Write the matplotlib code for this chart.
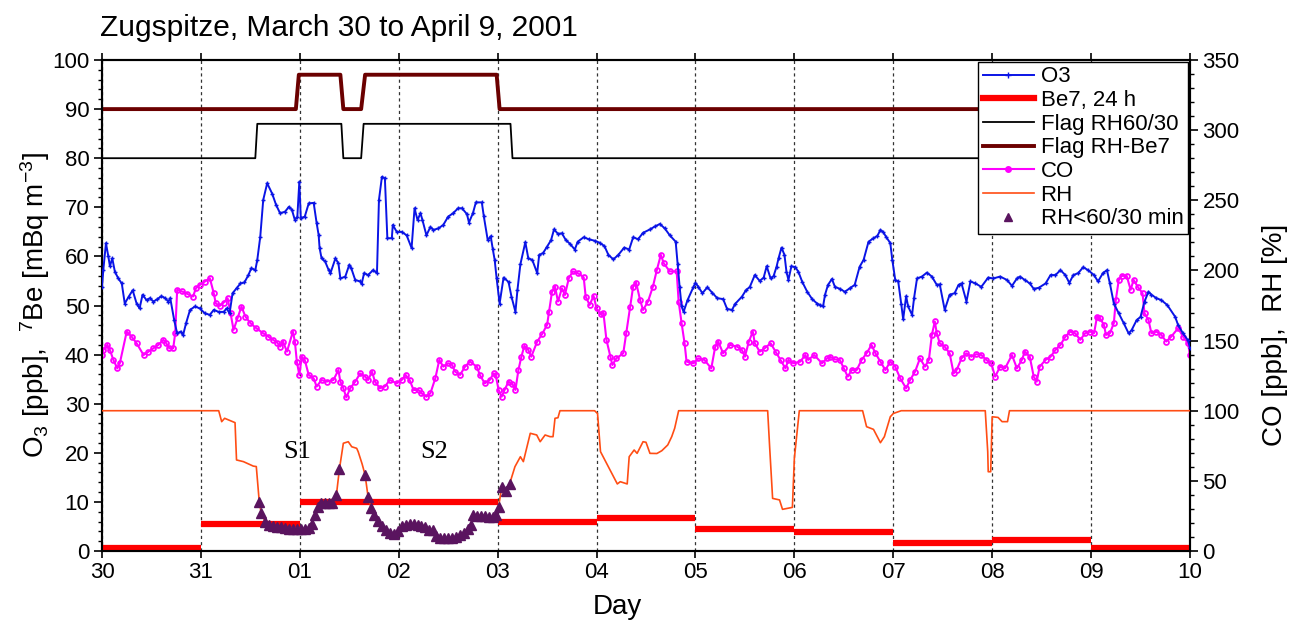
import numpy as np
import matplotlib
matplotlib.use("Agg")
import matplotlib.pyplot as plt
from matplotlib.lines import Line2D
from matplotlib.ticker import MultipleLocator

plt.rcParams['font.family'] = ['Liberation Sans', 'DejaVu Sans']
plt.rcParams['mathtext.default'] = 'regular'

# ---------------- data (x = days since March 30, 00:00) ----------------
day_labels = ['30', '31', '01', '02', '03', '04', '05', '06', '07', '08', '09', '10']

o3_day = [0.0, 0.013, 0.04, 0.064, 0.08, 0.104, 0.13, 0.165, 0.2, 0.23, 0.27, 0.31, 0.35, 0.38, 0.41, 0.45,
          0.485, 0.52, 0.56, 0.60, 0.64, 0.67, 0.69, 0.73, 0.76, 0.795, 0.82, 0.85, 0.89, 0.94, 0.99, 1.04,
          1.09, 1.13, 1.18, 1.23, 1.26, 1.29, 1.32, 1.36, 1.40, 1.44, 1.48, 1.51, 1.55, 1.57, 1.60, 1.63,
          1.67, 1.72, 1.76, 1.80, 1.85, 1.89, 1.92, 1.95, 1.975, 1.995, 2.01, 2.05, 2.09, 2.14, 2.17, 2.19,
          2.20, 2.22, 2.255, 2.29, 2.31, 2.36, 2.39, 2.41, 2.46, 2.50, 2.52, 2.56, 2.61, 2.625, 2.65, 2.69,
          2.74, 2.78, 2.80, 2.83, 2.86, 2.885, 2.93, 2.94, 2.98, 3.03, 3.08, 3.13, 3.16, 3.19, 3.22, 3.24,
          3.28, 3.32, 3.35, 3.40, 3.45, 3.50, 3.55, 3.60, 3.64, 3.69, 3.71, 3.75, 3.78, 3.84, 3.86, 3.90,
          3.93, 3.95, 3.97, 3.99, 4.02, 4.06, 4.11, 4.14, 4.18, 4.20, 4.23, 4.28, 4.31, 4.35, 4.40, 4.42,
          4.46, 4.50, 4.54, 4.57, 4.61, 4.65, 4.69, 4.73, 4.78, 4.81, 4.87, 4.92, 4.98, 5.03, 5.08, 5.12,
          5.17, 5.22, 5.28, 5.33, 5.37, 5.42, 5.47, 5.54, 5.59, 5.64, 5.69, 5.74, 5.80, 5.82, 5.84, 5.86,
          5.88, 5.92, 5.98, 6.00, 6.03, 6.07, 6.12, 6.17, 6.22, 6.28, 6.32, 6.37, 6.40, 6.47, 6.51, 6.55,
          6.60, 6.65, 6.69, 6.72, 6.76, 6.79, 6.82, 6.84, 6.87, 6.90, 6.92, 6.94, 6.97, 7.01, 7.04, 7.08,
          7.13, 7.18, 7.23, 7.26, 7.29, 7.31, 7.34, 7.38, 7.41, 7.46, 7.51, 7.56, 7.61, 7.66, 7.70, 7.75,
          7.80, 7.84, 7.87, 7.90, 7.93, 7.97, 7.99, 8.02, 8.05, 8.08, 8.10, 8.13, 8.15, 8.19, 8.21, 8.24,
          8.29, 8.34, 8.39, 8.44, 8.47, 8.52, 8.57, 8.62, 8.66, 8.69, 8.74, 8.78, 8.83, 8.89, 8.96, 9.01,
          9.08, 9.15, 9.20, 9.25, 9.28, 9.33, 9.38, 9.42, 9.47, 9.54, 9.59, 9.64, 9.69, 9.74, 9.78, 9.82,
          9.87, 9.92, 9.97, 10.03, 10.07, 10.12, 10.16, 10.19, 10.23, 10.28, 10.33, 10.38, 10.41, 10.46,
          10.50, 10.54, 10.58, 10.61, 10.66, 10.71, 10.77, 10.85, 10.88, 10.93, 10.98, 11.0]
o3_val = [53.8, 57.2, 62.7, 60.0, 58.0, 59.6, 56.9, 55.5, 54.5, 50.4, 51.8, 53.1, 50.4, 49.4, 52.2, 51.1,
          51.5, 50.8, 51.3, 51.9, 51.5, 50.8, 51.5, 47.0, 44.3, 44.7, 44.0, 46.4, 49.1, 49.8, 49.4, 48.4,
          48.1, 49.1, 48.7, 48.7, 49.4, 48.4, 52.5, 53.5, 54.5, 54.7, 56.2, 57.6, 57.2, 59.3, 64.0, 71.5,
          74.9, 72.8, 70.5, 68.8, 69.1, 70.1, 69.5, 67.4, 68.1, 75.2, 67.8, 68.1, 70.8, 70.9, 66.8, 64.4,
          61.7, 59.6, 59.0, 57.3, 56.6, 59.6, 58.6, 55.5, 55.9, 58.3, 57.6, 55.2, 54.9, 54.4, 56.6, 56.2,
          57.2, 56.6, 71.5, 76.2, 75.9, 63.7, 63.7, 66.4, 65.0, 65.0, 64.3, 61.7, 69.8, 67.4, 68.8, 67.4,
          64.3, 66.0, 65.4, 65.7, 66.4, 68.1, 68.8, 69.8, 69.8, 68.6, 66.9, 68.8, 71.0, 71.0, 68.2, 63.3,
          64.1, 61.6, 59.3, 55.5, 50.4, 55.7, 54.8, 51.8, 48.7, 53.1, 58.4, 62.9, 59.6, 59.3, 56.6, 60.3,
          60.7, 62.0, 63.3, 65.5, 64.6, 64.7, 63.3, 62.6, 61.4, 63.0, 63.9, 63.5, 63.2, 62.8, 62.1, 60.3,
          59.4, 60.3, 61.8, 61.4, 63.9, 63.5, 64.8, 65.5, 66.1, 66.6, 65.7, 64.3, 63.0, 58.5, 53.8, 49.8,
          48.7, 51.1, 53.8, 54.6, 53.8, 52.5, 53.7, 52.6, 51.5, 51.3, 49.3, 49.1, 50.3, 51.8, 53.1, 53.8,
          56.2, 55.0, 55.7, 58.0, 55.5, 56.0, 57.9, 59.6, 61.8, 60.3, 56.9, 55.2, 58.0, 57.8, 56.9, 54.8,
          52.8, 51.3, 50.4, 50.1, 49.8, 52.2, 54.2, 55.4, 53.8, 53.4, 52.8, 53.5, 54.2, 57.9, 59.3, 63.0,
          63.7, 64.2, 65.4, 64.9, 63.9, 62.7, 59.3, 55.2, 54.9, 50.4, 47.2, 51.9, 49.8, 48.1, 51.5, 55.5,
          55.9, 56.7, 55.9, 54.2, 54.3, 49.1, 52.2, 52.5, 54.2, 54.5, 50.8, 54.9, 54.5, 53.8, 55.7, 55.5,
          55.9, 55.2, 54.0, 55.5, 55.9, 55.2, 54.5, 53.4, 53.6, 54.5, 56.2, 56.2, 57.2, 56.2, 54.6, 56.2,
          56.6, 57.8, 57.2, 56.2, 54.9, 56.6, 57.2, 54.5, 50.4, 48.4, 46.4, 44.3, 45.0, 47.0,
          47.7, 50.8, 52.8, 52.2, 51.5, 51.1, 50.1, 47.7, 46.0, 44.3, 42.9, 41.4]

co_day = [0.0, 0.013, 0.054, 0.08, 0.115, 0.155, 0.18, 0.25, 0.30, 0.35, 0.42, 0.47, 0.52, 0.57, 0.62, 0.65,
          0.68, 0.72, 0.74, 0.76, 0.81, 0.86, 0.92, 0.95, 0.99, 1.04, 1.09, 1.13, 1.15, 1.19, 1.23, 1.27,
          1.30, 1.33, 1.37, 1.41, 1.45, 1.50, 1.56, 1.63, 1.68, 1.73, 1.77, 1.80, 1.83, 1.87, 1.93, 1.95,
          1.97, 1.995, 2.02, 2.05, 2.09, 2.14, 2.17, 2.22, 2.27, 2.34, 2.39, 2.41, 2.44, 2.47, 2.51, 2.56,
          2.61, 2.66, 2.69, 2.73, 2.76, 2.81, 2.86, 2.91, 2.98, 3.03, 3.07, 3.11, 3.15, 3.20, 3.23, 3.28,
          3.32, 3.37, 3.41, 3.45, 3.50, 3.54, 3.57, 3.62, 3.67, 3.72, 3.79, 3.82, 3.87, 3.92, 3.96, 3.98,
          4.01, 4.04, 4.07, 4.11, 4.15, 4.18, 4.21, 4.24, 4.27, 4.31, 4.34, 4.40, 4.45, 4.50, 4.52, 4.55,
          4.58, 4.61, 4.65, 4.68, 4.72, 4.76, 4.81, 4.87, 4.89, 4.93, 4.97, 5.00, 5.04, 5.07, 5.10, 5.14,
          5.16, 5.20, 5.27, 5.30, 5.34, 5.37, 5.40, 5.44, 5.47, 5.52, 5.57, 5.61, 5.65, 5.68, 5.74, 5.81,
          5.83, 5.86, 5.89, 5.91, 5.98, 6.03, 6.09, 6.16, 6.20, 6.23, 6.28, 6.35, 6.42, 6.47, 6.50, 6.54,
          6.58, 6.60, 6.65, 6.70, 6.76, 6.81, 6.86, 6.91, 6.94, 6.99, 7.06, 7.11, 7.14, 7.20, 7.28, 7.33,
          7.36, 7.41, 7.46, 7.50, 7.54, 7.58, 7.63, 7.68, 7.73, 7.78, 7.82, 7.87, 7.92, 7.97, 8.02, 8.07,
          8.13, 8.17, 8.22, 8.27, 8.32, 8.36, 8.39, 8.42, 8.44, 8.47, 8.52, 8.57, 8.61, 8.64, 8.69, 8.74,
          8.79, 8.84, 8.89, 8.94, 8.99, 9.03, 9.08, 9.13, 9.20, 9.25, 9.30, 9.33, 9.38, 9.42, 9.45, 9.48,
          9.54, 9.59, 9.64, 9.69, 9.74, 9.79, 9.84, 9.89, 9.94, 9.99, 10.03, 10.06, 10.09, 10.13, 10.15,
          10.19, 10.23, 10.25, 10.28, 10.31, 10.36, 10.40, 10.43, 10.47, 10.52, 10.54, 10.58, 10.61, 10.66,
          10.71, 10.76, 10.81, 10.88, 10.93, 10.98, 11.0]
co_val = [139.7, 143.3, 146.9, 143.3, 136.2, 130.2, 133.8, 156.4, 152.8, 148.1, 139.7, 142.1, 144.5, 146.9,
          150.5, 148.1, 144.5, 144.5, 155.2, 186.2, 185.0, 183.3, 181.4, 187.3, 189.7, 192.1, 194.5, 183.8,
          176.6, 174.7, 177.1, 180.2, 169.5, 157.6, 165.9, 174.2, 167.1, 162.4, 158.8, 155.2, 152.8, 150.5,
          148.6, 145.7, 149.3, 142.1, 156.4, 149.3, 135.0, 125.5, 138.5, 136.2, 125.5, 123.1, 117.2, 121.9,
          120.7, 121.9, 129.0, 120.7, 116.0, 109.5, 116.0, 120.7, 126.6, 124.3, 121.9, 127.8, 120.7, 116.0,
          117.2, 121.9, 119.5, 121.9, 125.5, 121.9, 114.8, 114.8, 112.4, 110.0, 112.4, 123.1, 136.2, 131.4,
          133.8, 132.6, 127.8, 125.5, 131.4, 135.0, 131.4, 125.5, 119.5, 121.9, 126.6, 125.5, 114.8, 110.0,
          114.8, 120.7, 119.0, 114.8, 129.0, 138.5, 146.2, 143.3, 138.5, 149.3, 154.7, 161.2, 170.7, 184.9,
          188.5, 177.8, 187.3, 182.5, 194.5, 199.3, 198.1, 195.2, 181.4, 175.4, 181.9, 173.0, 168.8, 169.5,
          150.5, 138.5, 132.6, 137.3, 140.9, 155.2, 174.2, 188.5, 191.3, 179.0, 171.8, 177.8, 188.5, 200.4,
          211.1, 205.1, 199.3, 199.3, 177.8, 162.4, 148.1, 135.0, 133.8, 137.3, 136.2, 130.2, 145.7, 149.3,
          140.9, 146.9, 145.7, 143.3, 138.5, 149.3, 156.4, 148.1, 142.1, 144.5, 148.1, 142.1, 136.2, 130.2,
          136.2, 133.8, 135.0, 139.7, 136.2, 139.7, 133.8, 137.3, 138.5, 136.6, 136.2, 130.2, 124.3, 129.0,
          129.0, 136.2, 140.9, 146.9, 140.9, 135.0, 129.0, 135.0, 131.4, 123.1, 116.0, 121.9, 127.8, 137.3,
          131.4, 136.2, 154.0, 163.6, 155.2, 148.1, 145.7, 140.9, 126.6, 129.0, 137.3, 140.9, 138.5, 140.3,
          139.7, 136.2, 133.8, 124.3, 131.4, 130.2, 139.7, 130.2, 136.2, 142.1, 138.5, 124.3, 120.7, 131.4,
          136.2, 138.5, 143.3, 146.9, 152.8, 156.4, 155.2, 150.5, 155.2, 156.4, 155.2, 167.1, 165.9, 161.2,
          154.0, 155.2, 162.4, 179.0, 193.3, 196.1, 196.1, 186.2, 193.3, 188.5, 183.8, 169.5, 164.7, 155.2,
          156.4, 154.0, 149.3, 152.8, 158.8, 152.8, 148.1, 139.7]

rh_day = [0.0, 1.18, 1.21, 1.24, 1.33, 1.345, 1.36, 1.43, 1.53, 1.56, 1.59, 1.61, 1.65, 1.69, 1.73, 1.77,
          1.81, 1.85, 1.89, 1.93, 1.97, 2.01, 2.05, 2.09, 2.12, 2.15, 2.18, 2.21, 2.25, 2.29, 2.33, 2.37,
          2.40, 2.44, 2.49, 2.525, 2.575, 2.59, 2.63, 2.66, 2.69, 2.72, 2.75, 2.79, 2.83, 2.87, 2.91, 2.95,
          2.99, 3.03, 3.07, 3.11, 3.15, 3.19, 3.23, 3.27, 3.31, 3.35, 3.38, 3.42, 3.46, 3.50, 3.54, 3.58,
          3.62, 3.66, 3.70, 3.73, 3.75, 3.79, 3.83, 3.87, 3.91, 3.95, 3.98, 4.01, 4.04, 4.08, 4.12, 4.175,
          4.23, 4.26, 4.33, 4.395, 4.43, 4.48, 4.53, 4.56, 4.58, 4.61, 4.63, 4.98, 5.01, 5.04, 5.11, 5.17,
          5.21, 5.24, 5.31, 5.33, 5.38, 5.41, 5.47, 5.50, 5.54, 5.61, 5.66, 5.72, 5.76, 5.79, 5.83, 6.73,
          6.75, 6.78, 6.85, 6.88, 6.98, 7.0, 7.05, 7.69, 7.73, 7.80, 7.87, 7.91, 7.97, 8.0, 8.08, 8.93,
          8.955, 8.96, 8.985, 9.0, 9.06, 9.10, 9.155, 9.175, 11.0]
rh_val = [100, 100, 92.2, 94.6, 92.0, 91.5, 64.9, 63.7, 60.5, 60.2, 35.0, 26.9, 20.9, 18.8, 18.0, 17.4,
          16.8, 16.3, 16.0, 15.7, 15.5, 15.5, 15.8, 16.2, 19.5, 25.5, 31.5, 34.0, 34.2, 34.4, 34.5, 40.0,
          58.2, 76.8, 77.9, 74.3, 73.2, 70.8, 62.0, 54.2, 38.7, 31.0, 25.5, 21.5, 17.8, 15.0, 13.0, 12.4,
          14.5, 17.8, 18.5, 19.0, 19.2, 18.5, 17.8, 17.3, 15.0, 15.0, 10.5, 9.6, 9.2, 9.1, 9.3, 10.2,
          11.5, 12.6, 15.5, 18.5, 25.7, 25.2, 25.0, 24.7, 24.5, 24.0, 26.0, 31.6, 45.3, 42.9, 47.6, 60.1,
          67.2, 63.7, 83.9, 82.7, 77.9, 82.7, 81.5, 81.5, 94.6, 95.0, 100, 100, 98.0, 70.8, 61.3, 53.0,
          47.8, 49.4, 47.8, 67.2, 72.0, 69.6, 77.9, 77.5, 69.6, 69.5, 71.5, 75.6, 81.5, 87.5, 100, 100,
          74.3, 37.5, 36.4, 29.7, 31.1, 66.1, 100, 100, 88.6, 86.7, 77.2, 81.5, 95.7, 98.0, 100, 100,
          70.8, 56.5, 56.5, 95.7, 95.2, 92.2, 92.2, 100, 100]

be7_start = [0, 1, 2, 3, 4, 5, 6, 7, 8, 9, 10]
be7_end = [1, 2, 3, 4, 5, 6, 7, 8, 9, 10, 11]
be7_val = [0.6, 5.6, 10.0, 10.0, 5.9, 6.7, 4.5, 3.9, 1.6, 2.2, 0.6]

flag6030_day = [0, 1.55, 1.57, 2.42, 2.44, 2.62, 2.645, 4.13, 4.15, 11]
flag6030_val = [80, 80, 87, 87, 80, 80, 87, 87, 80, 80]
flagbe7_day = [0, 1.96, 1.99, 2.41, 2.44, 2.62, 2.66, 3.99, 4.02, 11]
flagbe7_val = [90, 90, 97, 97, 90, 90, 97, 97, 90, 90]

# ---------------- figure ----------------
fig = plt.figure(figsize=(12.96, 6.21), dpi=100)
ax = fig.add_axes([102 / 1296, 1 - 551 / 621, 1088 / 1296, 491 / 621])
ax2 = ax.twinx()

C_O3 = '#0a14e6'
C_CO = '#ff00ff'
C_RH = '#ff4d14'
C_BE = '#ff0000'
C_FB = '#6b0000'
C_TRI = '#5a145f'

# left axis
ax.hlines(be7_val, be7_start, be7_end, colors=C_BE, linewidth=4.5, zorder=3)
ax.plot(flag6030_day, flag6030_val, color='black', lw=1.3, zorder=3)
ax.plot(flagbe7_day, flagbe7_val, color=C_FB, lw=2.8, zorder=3)

# right axis
rh_d = np.array(rh_day)
rh_v = np.array(rh_val)
ax2.plot(co_day, co_val, color=C_CO, lw=1.5, marker='o', ms=3.5, mfc='none', mew=1.3, zorder=2)
ax2.plot(rh_day, rh_v, color=C_RH, lw=1.2, zorder=3)
mask = (rh_v < 60) & (rh_d < 4.2)
ax2.plot(rh_d[mask], rh_v[mask], ls='none', marker='^', ms=6.5, color=C_TRI, zorder=4)
# O3 drawn on the twin axes (left scale 0-100 maps onto right scale 0-350)
ax2.plot(o3_day, np.array(o3_val) * 3.5, color=C_O3, lw=1.4, marker='+', ms=3.5, mew=1.0, zorder=5)

ax.set_xlim(0, 11)
ax.set_ylim(0, 100)
ax2.set_ylim(0, 350)

ax.set_xticks(range(12))
ax.set_xticklabels(day_labels)
ax.yaxis.set_major_locator(MultipleLocator(10))
ax.yaxis.set_minor_locator(MultipleLocator(2))
ax2.yaxis.set_major_locator(MultipleLocator(50))
ax2.yaxis.set_minor_locator(MultipleLocator(10))

for a in (ax, ax2):
    for s in a.spines.values():
        s.set_linewidth(1.5)
ax.tick_params(axis='x', which='major', direction='out', length=5, width=1.2, labelsize=16,
               top=True, pad=3)
ax.tick_params(axis='y', which='major', direction='out', length=6, width=1.2, labelsize=16, pad=3)
ax.tick_params(axis='y', which='minor', direction='out', length=3, width=1.0)
ax2.tick_params(axis='y', which='major', direction='out', length=6, width=1.2, labelsize=16, pad=3)
ax2.tick_params(axis='y', which='minor', direction='out', length=3, width=1.0)

ax.grid(axis='x', which='major', color='#333333', linestyle=(0, (2.5, 2.5)), linewidth=0.9)

ax.set_xlabel('Day', fontsize=20)
ax.xaxis.set_label_coords(0.474, -0.088)
ax.set_ylabel(r'O$_3$ [ppb],  $^7$Be [mBq m$^{-3}$]', fontsize=20)
ax.yaxis.set_label_coords(-0.046, 0.5)
ax2.set_ylabel('CO [ppb],  RH [%]', fontsize=20)
ax2.yaxis.set_label_coords(1.066, 0.44)

ax.text(1.97, 20.2, 'S1', family=['Liberation Serif', 'DejaVu Serif'], fontsize=19, ha='center', va='center', zorder=6)
ax.text(3.36, 20.2, 'S2', family=['Liberation Serif', 'DejaVu Serif'], fontsize=19, ha='center', va='center', zorder=6)

fig.text(100 / 1296, 1 - 28 / 621, 'Zugspitze, March 30 to April 9, 2001', fontsize=21.5, ha='left', va='center')

handles = [
    Line2D([], [], color=C_O3, lw=1.4, marker='+', ms=4),
    Line2D([], [], color=C_BE, lw=4.5),
    Line2D([], [], color='black', lw=1.3),
    Line2D([], [], color=C_FB, lw=2.8),
    Line2D([], [], color=C_CO, lw=1.5, marker='o', ms=4),
    Line2D([], [], color=C_RH, lw=1.2),
    Line2D([], [], ls='none', marker='^', ms=6, color=C_TRI),
]
labels = ['O3', 'Be7, 24 h', 'Flag RH60/30', 'Flag RH-Be7', 'CO', 'RH', 'RH<60/30 min']
leg = ax2.legend(handles, labels, loc='upper right', bbox_to_anchor=(0.998, 0.996), borderaxespad=0,
                 fontsize=16, frameon=True, fancybox=False, edgecolor='black', framealpha=1,
                 borderpad=0.2, labelspacing=0.12, handlelength=2.3, handletextpad=0.3)
leg.get_frame().set_linewidth(1.0)
leg.set_zorder(10)

fig.savefig('out.png', dpi=100)
